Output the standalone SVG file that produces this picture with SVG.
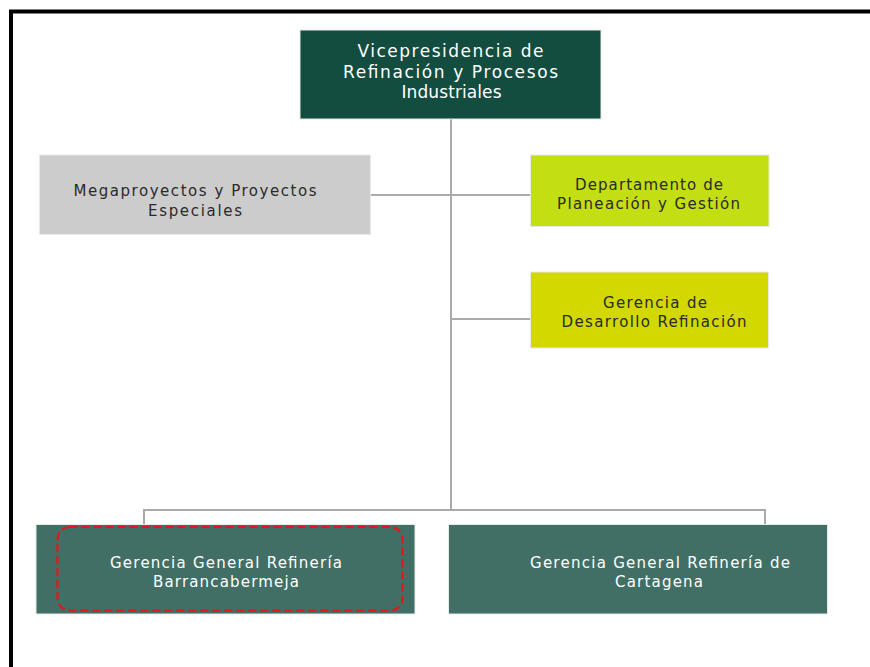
<svg xmlns="http://www.w3.org/2000/svg" width="870" height="667" viewBox="0 0 870 667">
<style>
.t{font-family:"DejaVu Sans","Liberation Sans",sans-serif;text-anchor:middle}
.top{font-size:17px;fill:#ffffff}
.sm{font-size:15px}
.dark{fill:#2a2a2a}
.light{fill:#ffffff}
.box{stroke:#e6ebe9;stroke-width:1}
.con{stroke:#aaaaaa;stroke-width:2;fill:none}
</style>
<rect x="0" y="0" width="870" height="667" fill="#ffffff"/>
<path d="M11 667 V11.5 H870" fill="none" stroke="#000000" stroke-width="4"/>
<g id="connectors">
<path class="con" d="M451 119 V510"/>
<path class="con" d="M370 195 H530"/>
<path class="con" d="M451 319 H530"/>
<path class="con" d="M144 524 V510 H765 V524"/>
</g>
<g id="vicepresidencia">
<rect class="box" x="300" y="30" width="301" height="89" fill="#134d40"/>
<text class="t top" x="450.5" y="56.5" textLength="186">Vicepresidencia de</text>
<text class="t top" x="450.5" y="77.5" textLength="215">Refinación y Procesos</text>
<text class="t top" x="451.5" y="98" textLength="100">Industriales</text>
</g>
<g id="megaproyectos">
<rect class="box" x="39.5" y="155" width="331" height="79.5" fill="#cccccc"/>
<text class="t sm dark" x="195" y="196" textLength="243">Megaproyectos y Proyectos</text>
<text class="t sm dark" x="195" y="215.5" textLength="94">Especiales</text>
</g>
<g id="departamento">
<rect class="box" x="530.5" y="155" width="238.5" height="71.5" fill="#c3de12"/>
<text class="t sm dark" x="649" y="190" textLength="148">Departamento de</text>
<text class="t sm dark" x="648.5" y="209" textLength="183">Planeación y Gestión</text>
</g>
<g id="gerencia-desarrollo">
<rect class="box" x="530.5" y="272" width="238" height="76" fill="#d3d800"/>
<text class="t sm dark" x="655" y="307.5" textLength="104">Gerencia de</text>
<text class="t sm dark" x="654" y="326.5" textLength="185">Desarrollo Refinación</text>
</g>
<g id="gerencia-barrancabermeja">
<rect class="box" x="36" y="524.5" width="379" height="89.5" fill="#416f66"/>
<rect x="57.5" y="527" width="345" height="83.5" rx="12" fill="none" stroke="#e8141a" stroke-width="2.2" stroke-dasharray="8 4"/>
<text class="t sm light" x="226" y="568" textLength="232">Gerencia General Refinería</text>
<text class="t sm light" x="226" y="587" textLength="146">Barrancabermeja</text>
</g>
<g id="gerencia-cartagena">
<rect class="box" x="448.5" y="524.5" width="379" height="89.5" fill="#416f66"/>
<text class="t sm light" x="660" y="568" textLength="260">Gerencia General Refinería de</text>
<text class="t sm light" x="659" y="587" textLength="88">Cartagena</text>
</g>
</svg>
